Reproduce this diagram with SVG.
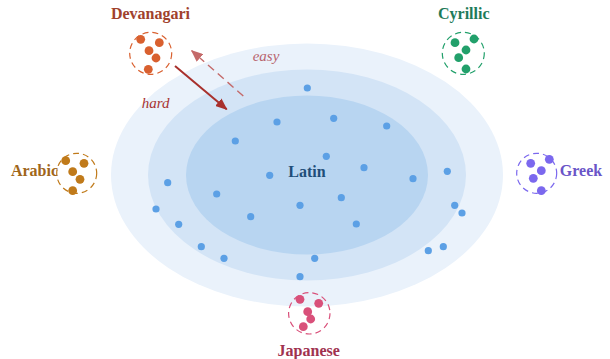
<svg xmlns="http://www.w3.org/2000/svg" width="610" height="359" viewBox="0 0 610 359">
<defs>
<style>
.lbl{font-family:"Liberation Serif","Times New Roman",serif;font-weight:bold;font-size:16px;}
.it{font-family:"Liberation Serif","Times New Roman",serif;font-style:italic;font-size:15px;}
.pt{fill:#5CA0E5;}
.ring{fill:none;stroke-width:1.2;stroke-dasharray:6 4;}
</style>
<marker id="hHard" viewBox="0 0 12 10" refX="11" refY="5" markerWidth="12" markerHeight="10" markerUnits="userSpaceOnUse" orient="auto">
<path d="M0,0 L12,5 L0,10 Z" fill="#A8302C"/>
</marker>
<marker id="hEasy" viewBox="0 0 12 10" refX="11" refY="5" markerWidth="12" markerHeight="10" markerUnits="userSpaceOnUse" orient="auto">
<path d="M0,0 L12,5 L0,10 Z" fill="#C46A6A"/>
</marker>
</defs>
<rect width="610" height="359" fill="#FFFFFF"/>
<g id="latin">
<ellipse cx="307" cy="175" rx="196" ry="131.5" fill="#EAF2FB"/>
<ellipse cx="307" cy="175" rx="159" ry="105.5" fill="#D3E4F6"/>
<ellipse cx="307" cy="175" rx="121" ry="79.5" fill="#B8D5F1"/>
<g>
<circle class="pt" cx="307.3" cy="88" r="3.6"/>
<circle class="pt" cx="277" cy="122" r="3.6"/>
<circle class="pt" cx="333.7" cy="118.3" r="3.6"/>
<circle class="pt" cx="386.7" cy="126" r="3.6"/>
<circle class="pt" cx="235.3" cy="141" r="3.6"/>
<circle class="pt" cx="326.3" cy="156.3" r="3.6"/>
<circle class="pt" cx="364" cy="167.7" r="3.6"/>
<circle class="pt" cx="269.7" cy="175.3" r="3.6"/>
<circle class="pt" cx="413" cy="178.7" r="3.6"/>
<circle class="pt" cx="447.3" cy="171.3" r="3.6"/>
<circle class="pt" cx="167.7" cy="182.7" r="3.6"/>
<circle class="pt" cx="216.7" cy="194" r="3.6"/>
<circle class="pt" cx="341.3" cy="197.7" r="3.6"/>
<circle class="pt" cx="300" cy="205.3" r="3.6"/>
<circle class="pt" cx="156" cy="209" r="3.6"/>
<circle class="pt" cx="454.7" cy="205.3" r="3.6"/>
<circle class="pt" cx="462" cy="213" r="3.6"/>
<circle class="pt" cx="250.7" cy="216.7" r="3.6"/>
<circle class="pt" cx="356.3" cy="224" r="3.6"/>
<circle class="pt" cx="178.7" cy="224.3" r="3.6"/>
<circle class="pt" cx="201.3" cy="246.7" r="3.6"/>
<circle class="pt" cx="443.3" cy="246.7" r="3.6"/>
<circle class="pt" cx="428.3" cy="250.7" r="3.6"/>
<circle class="pt" cx="224" cy="258.3" r="3.6"/>
<circle class="pt" cx="314.7" cy="258.3" r="3.6"/>
<circle class="pt" cx="300" cy="276.7" r="3.6"/>
</g>
<text class="lbl" x="307" y="176.7" text-anchor="middle" fill="#1F4E79">Latin</text>
</g>
<g id="devanagari">
<circle class="ring" cx="150.7" cy="53.3" r="21" stroke="#D9602F"/>
<g fill="#D9602F">
<circle cx="140.7" cy="39.3" r="4.4"/>
<circle cx="159.3" cy="42.7" r="4.4"/>
<circle cx="149" cy="50.7" r="4.4"/>
<circle cx="156" cy="58" r="4.4"/>
<circle cx="148.3" cy="69.3" r="4.4"/>
</g>
<text class="lbl" x="150.5" y="19" text-anchor="middle" fill="#A0412D">Devanagari</text>
</g>
<g id="cyrillic">
<circle class="ring" cx="463.3" cy="53.3" r="21" stroke="#22A06B"/>
<g fill="#22A06B">
<circle cx="455" cy="42.7" r="4.4"/>
<circle cx="474" cy="39" r="4.4"/>
<circle cx="466" cy="50" r="4.4"/>
<circle cx="458.7" cy="57.7" r="4.4"/>
<circle cx="466" cy="69" r="4.4"/>
</g>
<text class="lbl" x="463.8" y="19" text-anchor="middle" fill="#1E7B5A">Cyrillic</text>
</g>
<g id="arabic">
<circle class="ring" cx="76.7" cy="173.3" r="20" stroke="#C07A1A"/>
<g fill="#C07A1A">
<circle cx="65.7" cy="160.7" r="4.4"/>
<circle cx="84" cy="163.3" r="4.4"/>
<circle cx="72.7" cy="171.7" r="4.4"/>
<circle cx="80" cy="179.3" r="4.4"/>
<circle cx="72.7" cy="190.7" r="4.4"/>
</g>
<text class="lbl" x="34.5" y="175.5" text-anchor="middle" fill="#A0661A">Arabic</text>
</g>
<g id="greek">
<circle class="ring" cx="536.7" cy="173.3" r="20" stroke="#7B68EE"/>
<g fill="#7B68EE">
<circle cx="530.7" cy="163.3" r="4.4"/>
<circle cx="549.3" cy="159.3" r="4.4"/>
<circle cx="541.3" cy="170.7" r="4.4"/>
<circle cx="533.3" cy="178.3" r="4.4"/>
<circle cx="541.3" cy="190.7" r="4.4"/>
</g>
<text class="lbl" x="581" y="176" text-anchor="middle" fill="#6A55C8">Greek</text>
</g>
<g id="japanese">
<circle class="ring" cx="309.3" cy="313.3" r="20.7" stroke="#D9507A"/>
<g fill="#D9507A">
<circle cx="300" cy="299.3" r="4.4"/>
<circle cx="318.7" cy="303.3" r="4.4"/>
<circle cx="307.7" cy="311.7" r="4.4"/>
<circle cx="310.7" cy="319" r="4.4"/>
<circle cx="303.3" cy="326.7" r="4.4"/>
</g>
<text class="lbl" x="308.7" y="356" text-anchor="middle" fill="#A0324F">Japanese</text>
</g>
<g id="connectors">
<line x1="175" y1="66" x2="226.7" y2="109.3" stroke="#A8302C" stroke-width="2" marker-end="url(#hHard)"/>
<line x1="243.3" y1="96" x2="191.7" y2="50.7" stroke="#C46A6A" stroke-width="1.4" stroke-dasharray="8 5" marker-end="url(#hEasy)"/>
<text class="it" x="141.7" y="108.3" fill="#A83232">hard</text>
<text class="it" x="252.7" y="61" fill="#B8656E">easy</text>
</g>
</svg>
